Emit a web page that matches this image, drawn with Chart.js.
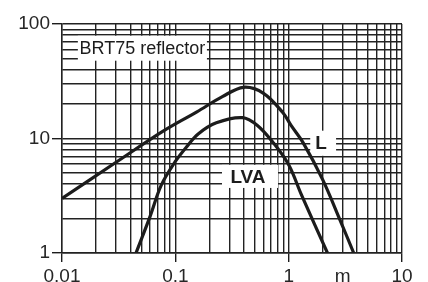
<!DOCTYPE html>
<html>
<head>
<meta charset="utf-8">
<script src="https://cdn.jsdelivr.net/npm/chart.js@4/dist/chart.umd.min.js"></script>
<style>
  html, body { margin: 0; padding: 0; background: #fff; }
  #wrap { width: 428px; height: 282px; }
</style>
</head>
<body>
<div id="wrap"><canvas id="c" width="428" height="282"></canvas></div>
<script>
// (log-log)
var lX = [0.01, 0.03, 0.078, 0.155, 0.26, 0.4, 0.6, 0.89, 1.05, 1.34, 2.0, 2.84, 3.75];
var lY = [3.0, 6.2, 11.6, 17.1, 23.2, 28.0, 24.8, 16.8, 13.0, 9.2, 4.35, 1.94, 1.0];
var lvaX = [0.045, 0.06, 0.075, 0.1, 0.125, 0.16, 0.23, 0.39, 0.53, 0.73, 1.0, 1.3, 2.2];
var lvaY = [1.0, 2.1, 3.9, 6.3, 8.4, 11.0, 13.7, 15.2, 13.0, 9.2, 5.9, 3.2, 1.0];

var xMajor = [0.01, 0.1, 1, 10];
var yMajor = [1, 10, 100];
var unitLabel = 'm';   // sits at x = 3 on the axis

function logTicks(lo, hi) {
  var out = [];
  for (var d = lo; d < hi * 0.999; d *= 10) {
    for (var k = 1; k < 10; k++) out.push(+(d * k).toPrecision(3));
  }
  out.push(hi);
  return out;
}
function isMajor(list, v) {
  return list.some(function (m) { return Math.abs(m - v) / m < 1e-6; });
}
function pts(xs, ys) {
  return xs.map(function (x, i) { return { x: x, y: ys[i] }; });
}

var ink = '#1c1c1c';
var font = 'Liberation Sans, Arial, Helvetica, sans-serif';

var boxes = {
  id: 'boxes',
  beforeDatasetsDraw: function (chart) {
    var ctx = chart.ctx, sx = chart.scales.x, sy = chart.scales.y;
    var list = [
      { text: 'BRT75 reflector', x0: 0.0138, x1: 0.19, y0: 47.8, y1: 79, bold: false },
      { text: 'L', x0: 1.55, x1: 2.62, y0: 7.06, y1: 11.7, bold: true },
      { text: 'LVA', x0: 0.258, x1: 0.805, y0: 3.7, y1: 5.89, bold: true }
    ];
    ctx.save();
    list.forEach(function (b) {
      var l = sx.getPixelForValue(b.x0), r = sx.getPixelForValue(b.x1);
      var t = sy.getPixelForValue(b.y1), btm = sy.getPixelForValue(b.y0);
      ctx.fillStyle = '#fff';
      ctx.fillRect(l, t, r - l, btm - t);
      ctx.fillStyle = ink;
      ctx.font = (b.bold ? 'bold 19px ' : '18px ') + font;
      ctx.textAlign = 'center';
      ctx.textBaseline = 'middle';
      ctx.fillText(b.text, (l + r) / 2 - (b.bold ? 2 : 0), (t + btm) / 2 + 1);
    });
    ctx.restore();
  }
};

var ctx = document.getElementById('c').getContext('2d');
var chart = new Chart(ctx, {
  type: 'line',
  data: {
    datasets: [
      { label: 'L', data: pts(lX, lY), borderColor: ink, borderWidth: 3.2, pointRadius: 0, tension: 0.35, fill: false },
      { label: 'LVA', data: pts(lvaX, lvaY), borderColor: ink, borderWidth: 3.2, pointRadius: 0, tension: 0.35, fill: false }
    ]
  },
  options: {
    responsive: false,
    animation: false,
    layout: { padding: { top: 24, right: 26, left: 0, bottom: 0 } },
    plugins: { legend: { display: false }, tooltip: { enabled: false } },
    scales: {
      x: {
        type: 'logarithmic', min: 0.01, max: 10,
        afterBuildTicks: function (s) { s.ticks = logTicks(0.01, 10).map(function (v) { return { value: v }; }); },
        afterFit: function (s) { s.height = 29; },
        grid: {
          color: '#222', lineWidth: 1.4, tickLength: 9,
          tickColor: function (c) { return c.tick && isMajor(xMajor, c.tick.value) ? ink : 'rgba(0,0,0,0)'; }
        },
        border: { color: '#222', width: 1.4 },
        ticks: {
          autoSkip: false, maxRotation: 0, padding: 3,
          color: '#262626', font: { family: font, size: 19 },
          callback: function (v) {
            if (isMajor(xMajor, v)) return String(v);
            if (Math.abs(v - 3) < 1e-6) return unitLabel;
            return '';
          }
        }
      },
      y: {
        type: 'logarithmic', min: 1, max: 100,
        afterBuildTicks: function (s) { s.ticks = logTicks(1, 100).map(function (v) { return { value: v }; }); },
        afterFit: function (s) { s.width = 62; },
        grid: {
          color: '#222', lineWidth: 1.4, tickLength: 10,
          tickColor: function (c) { return c.tick && isMajor(yMajor, c.tick.value) ? ink : 'rgba(0,0,0,0)'; }
        },
        border: { color: '#222', width: 1.4 },
        ticks: {
          autoSkip: false, padding: 2,
          color: '#262626', font: { family: font, size: 19 },
          callback: function (v) { return isMajor(yMajor, v) ? String(v) : ''; }
        }
      }
    }
  },
  plugins: [boxes]
});
</script>
</body>
</html>
